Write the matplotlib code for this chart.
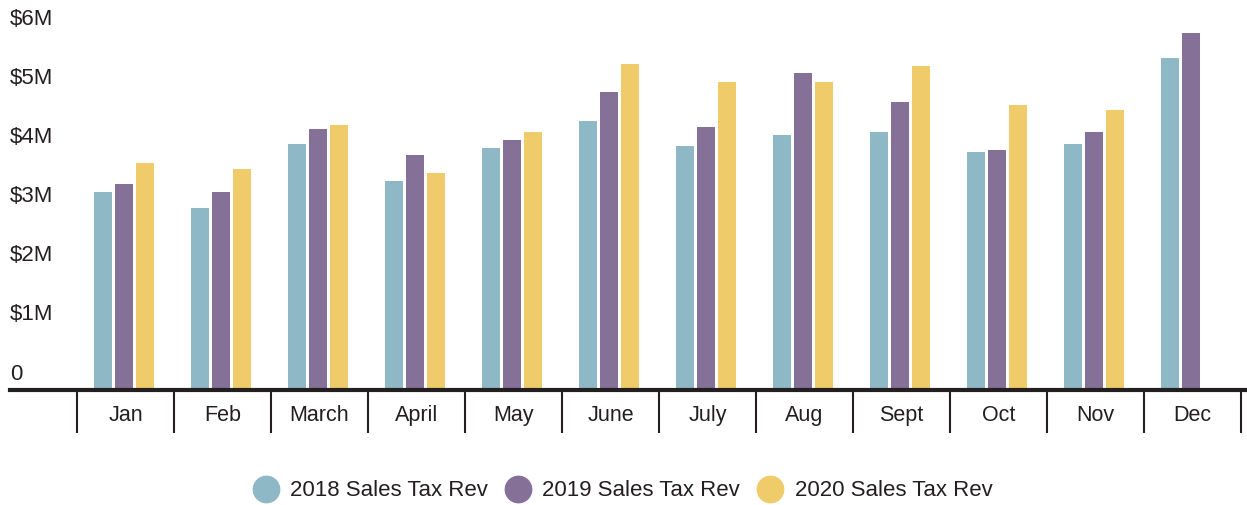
import matplotlib
matplotlib.use("Agg")
import matplotlib.pyplot as plt
import matplotlib.transforms as mtransforms
from matplotlib.lines import Line2D
import numpy as np

plt.rcParams['font.family'] = ['Liberation Sans', 'DejaVu Sans']

# values in $M
months = ['Jan', 'Feb', 'March', 'April', 'May', 'June', 'July', 'Aug', 'Sept', 'Oct', 'Nov', 'Dec']
rev_2018 = [3.35, 3.08, 4.16, 3.54, 4.09, 4.55, 4.13, 4.31, 4.37, 4.03, 4.16, 5.62]
rev_2019 = [3.49, 3.35, 4.42, 3.98, 4.23, 5.04, 4.45, 5.36, 4.87, 4.06, 4.37, 6.04]
rev_2020 = [3.84, 3.74, 4.48, 3.67, 4.37, 5.52, 5.21, 5.21, 5.48, 4.82, 4.74, np.nan]
series_names = ['2018 Sales Tax Rev', '2019 Sales Tax Rev', '2020 Sales Tax Rev']
ytick_vals = [0, 1, 2, 3, 4, 5, 6]
ytick_labels = ['0', '$1M', '$2M', '$3M', '$4M', '$5M', '$6M']

colors = ['#8FB8C6', '#857098', '#EFCB6A']
text_col = '#231F20'

W, H = 1247, 505
fig = plt.figure(figsize=(W / 100, H / 100), dpi=100)
ax = fig.add_axes([10 / W, 115 / H, 1 - 10 / W, 372 / H])

x = np.arange(len(months))
bw = 18 / 97
step = 21 / 97
shift = -1.5 / 97
for k, (vals, col, name) in enumerate(zip([rev_2018, rev_2019, rev_2020], colors, series_names)):
    ax.bar(x + (k - 1) * step + shift, vals, width=bw, color=col, label=name, zorder=2)

ax.set_xlim(-0.5 - 67 / 97, -0.5 + 1170 / 97)
ax.set_ylim(0, 372 / 59.1)

for s in ['top', 'right', 'left']:
    ax.spines[s].set_visible(False)
ax.spines['bottom'].set_linewidth(3)
ax.spines['bottom'].set_color(text_col)
ax.spines['bottom'].set_zorder(3)

ax.set_yticks([])
ax.set_xticks(x)
ax.set_xticklabels(months, fontsize=15.5, color=text_col)
ax.tick_params(axis='x', which='major', length=0, pad=10.5)
ax.set_xticks(np.arange(-0.5, len(months)), minor=True)
ax.tick_params(axis='x', which='minor', length=31, width=1.5, color=text_col, direction='out')

# y labels sit a little above their level
trans = mtransforms.offset_copy(ax.get_yaxis_transform(), fig=fig, x=0, y=16, units='dots')
for v, lab in zip(ytick_vals, ytick_labels):
    ax.text(0.0, v, lab, transform=trans, ha='left', va='center', fontsize=16, color=text_col)

handles = [Line2D([], [], linestyle='none', marker='o', markersize=19, markerfacecolor=c,
                  markeredgecolor=c) for c in colors]
fig.legend(handles, series_names, loc='center', bbox_to_anchor=(0.5, 1 - 491 / H), ncol=3,
           frameon=False, fontsize=16, handlelength=1.0, handletextpad=0.6, columnspacing=0.85,
           labelcolor=text_col)

fig.savefig('out.png', dpi=100)
